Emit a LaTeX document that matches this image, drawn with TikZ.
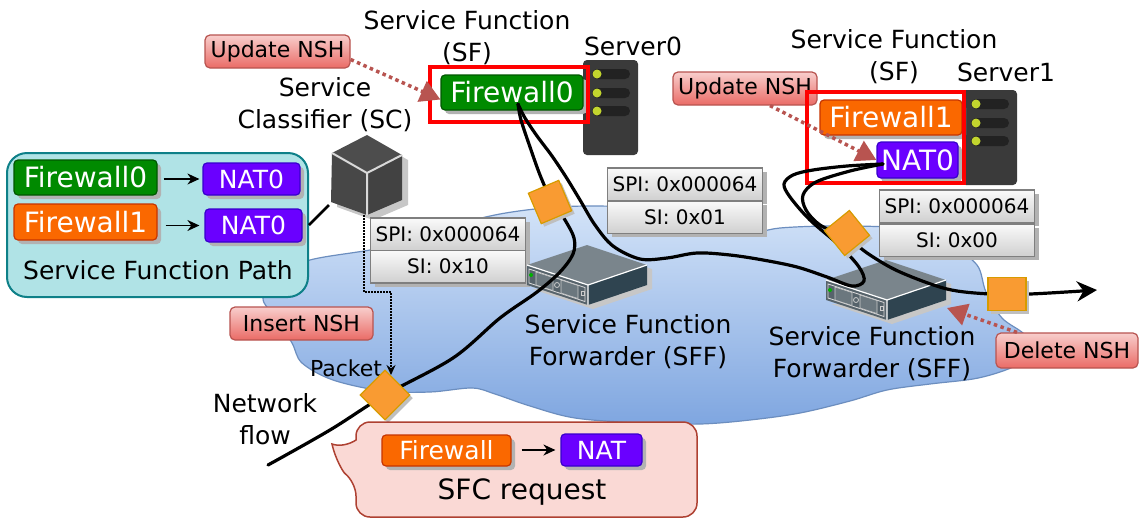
\documentclass[tikz,border=0pt]{standalone}
\usepackage{fontspec}
\setmainfont{DejaVu Sans}
\usetikzlibrary{arrows.meta,shadows,calc}

\definecolor{fwgreen}{HTML}{008A00}
\definecolor{fwgreenln}{HTML}{005700}
\definecolor{fworange}{HTML}{FA6800}
\definecolor{fworangeln}{HTML}{C73500}
\definecolor{natpurple}{HTML}{6A00FF}
\definecolor{natpurpleln}{HTML}{3700CC}
\definecolor{nshtop}{HTML}{F8CECC}
\definecolor{nshbot}{HTML}{EA6B66}
\definecolor{nshln}{HTML}{B85450}
\definecolor{sfpfill}{HTML}{B0E3E6}
\definecolor{sfpln}{HTML}{0E8088}
\definecolor{reqfill}{HTML}{FAD9D5}
\definecolor{reqln}{HTML}{AE4132}
\definecolor{pktfill}{HTML}{F99B32}
\definecolor{pktln}{HTML}{D79B00}
\definecolor{cloudtop}{HTML}{D3E3F8}
\definecolor{cloudbot}{HTML}{7FA6E0}
\definecolor{cloudln}{HTML}{6C8EBF}
\definecolor{spitop}{HTML}{FAFAFA}
\definecolor{spibot}{HTML}{D0D0D0}
\definecolor{spiln}{HTML}{7F7F7F}
\definecolor{srvbody}{HTML}{3A3A3A}
\definecolor{srvslot}{HTML}{222222}
\definecolor{srvled}{HTML}{C2D52E}
\definecolor{cubeface}{HTML}{4D4D4D}
\definecolor{swtop}{HTML}{7A858C}
\definecolor{swfront}{HTML}{56636B}
\definecolor{swside}{HTML}{2F4450}
\definecolor{swpanel}{HTML}{6B777E}

\newcommand{\fsLbl}{\fontsize{25}{32}\selectfont}
\newcommand{\fsBig}{\fontsize{28}{33}\selectfont}
\newcommand{\fsSpi}{\fontsize{20}{24}\selectfont}
\newcommand{\fsNsh}{\fontsize{22}{26}\selectfont}

\begin{document}
\begin{tikzpicture}[x=1pt,y=-1pt,
  boxshadow/.style={drop shadow={shadow xshift=4pt,shadow yshift=-4pt,fill=black!30,opacity=1}},
  fnbox/.style={rectangle,rounded corners=4pt,inner sep=0pt,text=white,line width=1.2pt,boxshadow},
  fwg/.style={fnbox,fill=fwgreen,draw=fwgreenln},
  fwo/.style={fnbox,fill=fworange,draw=fworangeln},
  natp/.style={fnbox,fill=natpurple,draw=natpurpleln},
  sfpbox/.style={rectangle,rounded corners=20pt,fill=sfpfill,draw=sfpln,line width=2pt,inner sep=0pt},
  spirow/.style={rectangle,inner sep=0pt,minimum width=155pt,minimum height=32.5pt,
    top color=spitop,bottom color=spibot,draw=spiln,line width=1.5pt,font=\fsSpi,boxshadow},
  nsh/.style={rectangle,rounded corners=5pt,inner sep=0pt,top color=nshtop,bottom color=nshbot,
    draw=nshln,line width=1.2pt,font=\fsNsh},
  nsharrow/.style={draw=nshln,line width=3.5pt,dash pattern=on 3.5pt off 3.5pt,
    -{Triangle[length=20pt,width=22pt,fill=nshln]}},
  sfframe/.style={rectangle,draw=red,line width=3.5pt,inner sep=0pt},
  packet/.style={rectangle,inner sep=0pt,minimum size=33pt,fill=pktfill,draw=pktln,line width=1.2pt,
    drop shadow={shadow xshift=3pt,shadow yshift=-3pt,fill=black!25,opacity=1}},
  flow/.style={line width=3.2pt,line cap=round,line join=round},
  lbl/.style={font=\fsLbl,align=center,inner sep=0pt},
  chainarrow/.style={line width=1.5pt,-{Stealth[length=12pt,width=11pt]}},
  insline/.style={line width=1.5pt,dash pattern=on 1.5pt off 1.5pt,-{Stealth[length=10pt,width=9pt]}},
  sffpic/.pic={
    \fill[black!22] (5,4) -- (-56,-16) -- (4,-36) -- (64,-16) -- (64,4) -- (5,24) -- (-56,4) -- cycle;
    \fill[swtop] (0,0) -- (-61,-20) -- (-1,-40) -- (59,-20) -- cycle;
    \fill[swfront] (-61,-20) -- (0,0) -- (0,20) -- (-61,0) -- cycle;
    \fill[swside] (0,0) -- (59,-20) -- (59,0) -- (0,20) -- cycle;
    \draw[white,line width=1.2pt] (-61,-20) -- (0,0) -- (59,-20) (0,0) -- (0,20);
    \draw[black!15,line width=0.8pt] (-59,-16) -- (-3,2.5) -- (-3,16.5) -- (-59,-2) -- cycle;
    \filldraw[fill=swpanel,draw=black!20,line width=0.6pt] (-52,-13) -- (-35,-7.5) -- (-35,5.5) -- (-52,0) -- cycle;
    \filldraw[fill=swpanel,draw=black!20,line width=0.6pt] (-27,-5) -- (-10,0.5) -- (-10,13.5) -- (-27,8) -- cycle;
    \draw[black!20,line width=0.8pt] (-31,0) circle (2.5);
    \draw[black!20,line width=0.8pt] (-6.5,6.5) rectangle (-3.5,10);
    \fill[green!70!black] (-57,-10) circle (2);
  },
  serverpic/.pic={
    \fill[srvbody,rounded corners=4pt] (0,0) rectangle (55,95);
    \foreach \yy in {14,33,51} {
      \fill[srvslot,rounded corners=5pt] (9,\yy-5) rectangle (47,\yy+5);
      \fill[srvled] (14,\yy) circle (4.5);
    }
  }
]
\useasboundingbox (0,0) rectangle (1141,520);
\fill[white] (0,0) rectangle (1141,520);

% network cloud
\draw[draw=cloudln,line width=1.2pt,top color=cloudtop,bottom color=cloudbot]
  plot[smooth cycle,tension=0.55] coordinates {
  (263,298) (280,275) (310,260) (370,250) (420,240) (460,224) (500,214) (545,208) (590,206)
  (650,208) (700,216) (737,235) (780,228) (840,226) (905,229) (950,246) (977,265)
  (986,292) (1002,318) (1024,334) (1031,350) (1018,364) (1000,372) (973,379) (930,384)
  (887,390) (850,401) (800,413) (750,420) (700,424) (640,423) (575,418) (530,406)
  (495,394) (472,388) (430,392) (383,391) (333,380) (302,363) (292,343) (276,318)};

% service function path
\node[sfpbox,minimum width=301pt,minimum height=144pt] (sfp) at (157.5,225) {};
\node[fwg,font=\fsBig,minimum width=143pt,minimum height=35pt] (pfw0) at (85.5,177.5) {Firewall0};
\node[natp,font=\fsLbl,minimum width=97pt,minimum height=32pt] (pnat0) at (251.5,179) {NAT0};
\node[fwo,font=\fsBig,minimum width=143pt,minimum height=36pt] (pfw1) at (85.5,222) {Firewall1};
\node[natp,font=\fsLbl,minimum width=97pt,minimum height=33pt] (pnat1) at (253.5,225.5) {NAT0};
\draw[chainarrow,shorten <=6pt,shorten >=3pt] (pfw0.east |- pnat0.west) -- (pnat0.west);
\draw[chainarrow,shorten <=8pt,shorten >=5pt] (pfw1.east |- pnat1.west) -- (pnat1.west);
\node[lbl] (sfptxt) at (158,270) {Service Function Path};

% service classifier cube
\coordinate (sclink) at (329,205);
\coordinate (scbase) at (364,215);
\draw[line width=2.5pt] (sfp.east) -- (sclink);
\fill[black!22] (338,158) -- (373,140) -- (408,160) -- (408,205) -- (373,220) -- (337,207) -- cycle;
\fill[cubeface] (332,153) -- (367,135) -- (402,155) -- (367,173) -- cycle;
\fill[cubeface!92!black] (332,153) -- (367,173) -- (367,215) -- (331,202) -- cycle;
\fill[cubeface!85!black] (367,173) -- (402,155) -- (402,200) -- (367,215) -- cycle;
\draw[white!85!black,line width=2pt] (332,153) -- (367,173) -- (402,155) (367,173) -- (367,215);

% SPI / SI headers
\node[spirow] (spiA) at (448,234) {SPI: 0x000064};
\node[spirow] (siA) at (448,266.5) {SI: 0x10};
\node[spirow] (spiB) at (685,184) {SPI: 0x000064};
\node[spirow] (siB) at (685,217) {SI: 0x01};
\node[spirow] (spiC) at (957,206) {SPI: 0x000064};
\node[spirow] (siC) at (957,240) {SI: 0x00};

% forwarders
\pic at (588,285) {sffpic};
\pic at (887,300) {sffpic};
\coordinate (sff1r) at (947,308);

% labels
\node[lbl] (sf0lbl) at (467,38) {Service Function\\(SF)};
\node[lbl] (sclbl) at (325,105) {Service\\Classifier (SC)};
\node[lbl] (srv0lbl) at (633,46) {Server0};
\node[lbl] (sf1lbl) at (894,57) {Service Function\\(SF)};
\node[lbl] (srv1lbl) at (1006,72) {Server1};
\node[lbl] (sff0lbl) at (628,342) {Service Function\\Forwarder (SFF)};
\node[lbl] (sff1lbl) at (872,354) {Service Function\\Forwarder (SFF)};
\node[lbl,font=\fsNsh] (pktlbl) at (346,368) {Packet};
\node[lbl] (flowlbl) at (265,419) {Network\\flow};

% NSH operations
\node[nsh,minimum width=145pt,minimum height=33pt] (upd0) at (277.5,51.5) {Update NSH};
\node[nsh,minimum width=144pt,minimum height=33pt] (upd1) at (745,88.5) {Update NSH};
\node[nsh,minimum width=143pt,minimum height=33pt] (ins) at (301.5,323.5) {Insert NSH};
\node[nsh,minimum width=142pt,minimum height=35pt] (del) at (1067,350.5) {Delete NSH};

% servers
\pic at (583,60) {serverpic};
\pic at (962,90) {serverpic};

% service functions
\node[fwg,font=\fsBig,minimum width=142pt,minimum height=35pt] (fw0) at (512,92.5) {Firewall0};
\node[fwo,font=\fsBig,minimum width=142pt,minimum height=35pt] (fw1) at (891,117.5) {Firewall1};
\node[natp,font=\fsBig,minimum width=81pt,minimum height=36pt] (nat1) at (917.5,160) {NAT0};
\node[sfframe,minimum width=158pt,minimum height=55pt] (sf0box) at (509,94.5) {};
\node[sfframe,minimum width=157pt,minimum height=91pt] (sf1box) at (885.5,137.5) {};

% network flow
\coordinate (flowin) at (268,465);
\coordinate (fw0tip) at (518,104);
\coordinate (nattip) at (883,164);
\coordinate (flowout) at (1097,290);
\draw[flow] plot[smooth,tension=0.55] coordinates {(flowin) (330,430) (385,395) (453,358)
  (500,318) (537,292) (560,272) (573,254) (574,238) (565,220) (550,197) (540,175) (530,147)
  (521,120) (fw0tip)};
\draw[flow] plot[smooth,tension=0.55] coordinates {(fw0tip) (525,118) (537,136) (552,156)
  (566,177) (580,200) (595,225) (613,246) (640,259) (667,258) (697,253) (730,255) (763,260)
  (797,267) (827,277) (852,286) (864,281) (859,267) (840,246) (810,220) (790,197) (784,184)
  (793,175) (813,170) (847,166) (nattip)};
\draw[flow,-{Stealth[length=20pt,width=20pt]}] plot[smooth,tension=0.55] coordinates {(nattip)
  (850,171) (816,182) (803,195) (806,210) (820,225) (847,238) (870,255) (900,272) (947,289)
  (990,294) (1030,294) (flowout)};

% packets
\node[packet,rotate=23] (pktA) at (550,202) {};
\node[packet,rotate=39,minimum size=32pt] (pktB) at (847,233) {};
\node[packet,minimum width=38pt,minimum height=33pt] (pktC) at (1007,294) {};
\node[packet,rotate=45,minimum size=35pt] (pktIn) at (385,395) {};

% NSH insertion by the classifier
\coordinate (pkttop) at (391,375);
\draw[insline] (scbase) |- (391,292) -- (pkttop);

% NSH update and removal
\draw[nsharrow] ([yshift=-8pt]upd0.east) -- ([yshift=-7pt]fw0.west);
\draw[nsharrow] ([xshift=25pt]upd1.south) -- (nat1.west);
\draw[nsharrow] ([xshift=-50pt]del.north) -- (sff1r);

% SFC request callout
\draw[draw=reqln,fill=reqfill,line width=1.5pt,rounded corners=14pt]
  (356,440) -- (356,422) -- (697,422) -- (697,517) -- (356,517) -- (356,482)
  [sharp corners] .. controls (343,472) and (335,458) .. (332,444)
  .. controls (340,447) and (350,444) .. (356,440) -- cycle;
\node[fwo,font=\fsLbl,minimum width=129pt,minimum height=31pt] (rfw) at (446.5,450.5) {Firewall};
\node[natp,font=\fsLbl,minimum width=81pt,minimum height=32pt] (rnat) at (601.5,450) {NAT};
\draw[chainarrow,shorten <=10pt,shorten >=5pt] (rfw.east |- rnat.west) -- (rnat.west);
\node[lbl,font=\fsBig] (reqtxt) at (522,492) {SFC request};
\end{tikzpicture}
\end{document}
